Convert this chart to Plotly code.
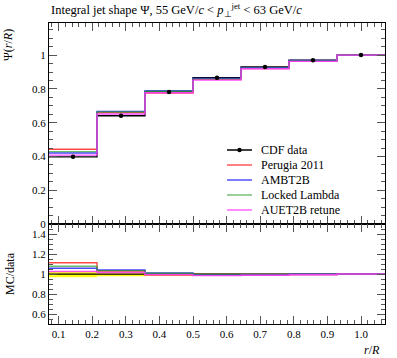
import plotly.graph_objects as go

# bin edges and centres (r/R)
edges = [0.0714, 0.2143, 0.3571, 0.5, 0.6429, 0.7857, 0.9286, 1.0714]
centres = [0.1429, 0.2857, 0.4286, 0.5714, 0.7143, 0.8571, 1.0]

data_vals = [0.398, 0.641, 0.782, 0.866, 0.930, 0.970, 1.0]
data_errs = [0.010, 0.008, 0.006, 0.004, 0.003, 0.002, 0.0]

perugia = [0.443, 0.660, 0.775, 0.857, 0.921, 0.965, 1.0]
ambt2b = [0.421, 0.667, 0.790, 0.862, 0.926, 0.968, 1.0]
locked = [0.429, 0.663, 0.786, 0.858, 0.922, 0.966, 1.0]
auet2b = [0.408, 0.651, 0.777, 0.852, 0.919, 0.963, 1.0]

band_lo = [0.968, 0.978, 0.985, 0.990, 0.993, 0.996, 1.0]
band_hi = [1.030, 1.022, 1.015, 1.010, 1.007, 1.004, 1.0]

names = ["Perugia 2011", "AMBT2B", "Locked Lambda", "AUET2B retune"]
colors = ["rgba(255,40,40,0.85)", "rgba(40,40,255,0.85)", "rgba(40,160,40,0.7)", "rgba(255,60,255,0.9)"]
legend_colors = ["rgb(255,90,90)", "rgb(80,80,255)", "rgb(120,190,120)", "rgb(255,100,255)"]
series = [perugia, ambt2b, locked, auet2b]

FONT = "Liberation Serif"

W, H = 397, 358
ML, MR, MT, MB = 49, 12, 23, 34
PW = W - ML - MR
PH = H - MT - MB

def px_to_paper(sx, sy):
    # pixel coordinates -> paper coordinates
    return (sx - ML) / PW, (H - MB - sy) / PH

def step(vals):
    return list(edges), list(vals) + [vals[-1]]

fig = go.Figure()

# yellow band in ratio
bx, blo = step(band_lo)
_, bhi = step(band_hi)
fig.add_trace(go.Scatter(x=bx, y=blo, line_shape="hv", mode="lines", line=dict(width=0),
                         showlegend=False, xaxis="x2", yaxis="y2", hoverinfo="skip"))
fig.add_trace(go.Scatter(x=bx, y=bhi, line_shape="hv", mode="lines", line=dict(width=0),
                         fill="tonexty", fillcolor="rgba(255,255,0,0.9)",
                         showlegend=False, xaxis="x2", yaxis="y2", hoverinfo="skip"))

# data histogram line in main
dx, dy = step(data_vals)
fig.add_trace(go.Scatter(x=dx, y=dy, line_shape="hv", mode="lines",
                         line=dict(color="black", width=1.3), showlegend=False))
ones = [1.0] * len(data_vals)
ox, oy = step(ones)
fig.add_trace(go.Scatter(x=ox, y=oy, line_shape="hv", mode="lines",
                         line=dict(color="black", width=1.3), showlegend=False,
                         xaxis="x2", yaxis="y2"))

for name, col, vals in zip(names, colors, series):
    sx, sy = step(vals)
    fig.add_trace(go.Scatter(x=sx, y=sy, line_shape="hv", mode="lines",
                             line=dict(color=col, width=1.4), name=name, showlegend=False))
    ratio = [v / d for v, d in zip(vals, data_vals)]
    rx, ry = step(ratio)
    fig.add_trace(go.Scatter(x=rx, y=ry, line_shape="hv", mode="lines",
                             line=dict(color=col, width=1.4), showlegend=False,
                             xaxis="x2", yaxis="y2"))

fig.add_trace(go.Scatter(x=centres, y=data_vals, mode="markers",
                         marker=dict(color="black", size=4.5),
                         error_y=dict(type="data", array=data_errs, color="black", thickness=1, width=0),
                         name="CDF data", showlegend=False))

axis_common = dict(showline=True, linecolor="black", linewidth=1, mirror="ticks",
                   ticks="inside", tickcolor="#555", tickwidth=1, zeroline=False,
                   showgrid=False, tickfont=dict(family=FONT, size=11, color="black"))

fig.update_layout(
    width=W, height=H,
    margin=dict(l=ML, r=MR, t=MT, b=MB),
    paper_bgcolor="white", plot_bgcolor="white",
    font=dict(family=FONT, size=12, color="black"),
    showlegend=False,
    xaxis=dict(domain=[0, 1], range=[edges[0], edges[-1]], anchor="y", showticklabels=False,
               dtick=0.1, tick0=0.1, ticklen=8,
               minor=dict(dtick=0.02, tick0=0.1, ticks="inside", ticklen=4, tickcolor="#555"),
               **axis_common),
    yaxis=dict(domain=[0.332, 1], range=[0, 1.19], anchor="x", ticklen=8,
               tickvals=[0, 0.2, 0.4, 0.6, 0.8, 1], ticktext=["0", "0.2", "0.4", "0.6", "0.8", "1"],
               minor=dict(dtick=0.05, ticks="inside", ticklen=4, tickcolor="#555"),
               **axis_common),
    xaxis2=dict(domain=[0, 1], range=[edges[0], edges[-1]], anchor="y2", dtick=0.1, tick0=0.1,
                ticklen=8, tickformat=".1f",
                minor=dict(dtick=0.02, tick0=0.1, ticks="inside", ticklen=4, tickcolor="#555"),
                **axis_common),
    yaxis2=dict(domain=[0, 0.332], range=[0.5, 1.5], anchor="x2", ticklen=8,
                tickvals=[0.6, 0.8, 1.0, 1.2, 1.4], ticktext=["0.6", "0.8", "1", "1.2", "1.4"],
                minor=dict(dtick=0.05, ticks="inside", ticklen=4, tickcolor="#555"),
                **axis_common),
)

# manual legend
leg_names = ["CDF data"] + names
leg_cols = ["black"] + legend_colors
for i, (nm, col) in enumerate(zip(leg_names, leg_cols)):
    sy = 150 + 15 * i
    x0, y0 = px_to_paper(227, sy)
    x1, _ = px_to_paper(252, sy)
    xt, _ = px_to_paper(259, sy)
    fig.add_shape(type="line", xref="paper", yref="paper", x0=x0, x1=x1, y0=y0, y1=y0,
                  line=dict(color=col, width=1.5))
    if i == 0:
        xc = (x0 + x1) / 2
        fig.add_shape(type="circle", xref="paper", yref="paper",
                      x0=xc - 2.2 / PW, x1=xc + 2.2 / PW, y0=y0 - 2.2 / PH, y1=y0 + 2.2 / PH,
                      fillcolor="black", line=dict(color="black", width=0))
    fig.add_annotation(text=nm, xref="paper", yref="paper", x=xt, y=y0, xanchor="left",
                       yanchor="middle", showarrow=False, font=dict(family=FONT, size=12))

fig.add_annotation(text="Integral jet shape Ψ, 55 GeV/<i>c</i> &lt; <i>p</i><sub>⊥</sub><sup>jet</sup> &lt; 63 GeV/<i>c</i>",
                   xref="paper", yref="paper", x=0, y=1.0, yshift=13, xanchor="left", yanchor="middle",
                   showarrow=False, font=dict(family=FONT, size=12.5))
fig.add_annotation(text="Ψ(<i>r</i>/<i>R</i>)", xref="paper", yref="paper", x=0, xshift=-41,
                   y=1, yshift=-22, xanchor="center", yanchor="middle", textangle=-90,
                   showarrow=False, font=dict(family=FONT, size=12))
fig.add_annotation(text="MC/data", xref="paper", yref="paper", x=0, xshift=-39,
                   y=0.166, yshift=0, xanchor="center", yanchor="middle", textangle=-90,
                   showarrow=False, font=dict(family=FONT, size=12))
fig.add_annotation(text="<i>r</i>/<i>R</i>", xref="paper", yref="paper", x=1, xshift=-3,
                   y=0, yshift=-17, xanchor="right", yanchor="top", showarrow=False,
                   font=dict(family=FONT, size=12))

fig.write_html("out.html", config={"displayModeBar": False},
               post_script="document.body.style.margin='0';document.body.style.overflow='hidden';")
